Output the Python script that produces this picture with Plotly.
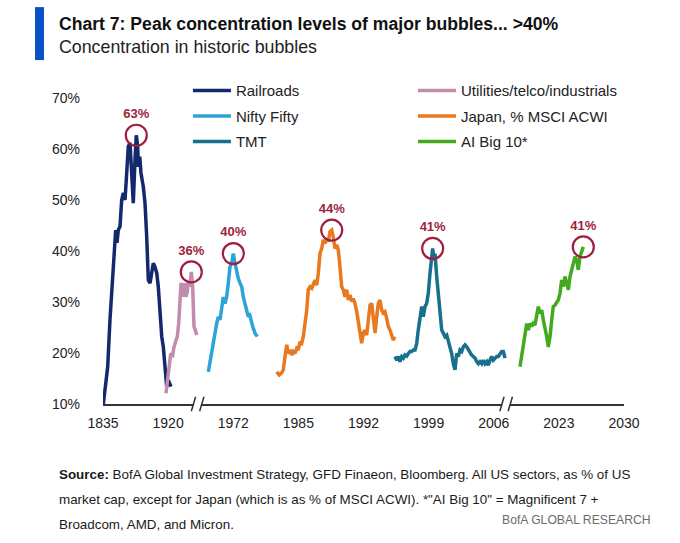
import numpy as np
import plotly.graph_objects as go

# x positions are in axis units: the tick labels sit at 0..8 (the axis is broken, so no real year scale)
tick_labels = ["1835", "1920", "1972", "1985", "1992", "1999", "2006", "2023", "2030"]
y_ticks = [10, 20, 30, 40, 50, 60, 70]

rail_x = [0.005, 0.041, 0.072, 0.107, 0.143, 0.174, 0.195, 0.215, 0.235, 0.261, 0.287, 0.312, 0.338,
          0.364, 0.388, 0.415, 0.441, 0.465, 0.491, 0.511, 0.533, 0.542, 0.564, 0.583, 0.619, 0.645,
          0.671, 0.696, 0.722, 0.748, 0.772, 0.798, 0.825, 0.849, 0.875, 0.902, 0.926, 0.952, 0.978,
          1.003, 1.044]
rail_y = [10.0, 13.4, 17.3, 26.5, 33.0, 40.8, 44.1, 41.6, 44.1, 44.8, 50.0, 51.4, 50.0,
          55.3, 60.5, 61.2, 54.0, 49.4, 57.8, 62.7, 60.5, 56.5, 58.5, 55.3, 52.6, 49.4,
          42.8, 34.3, 33.7, 35.7, 37.6, 36.9, 35.7, 33.0, 27.8, 23.2, 21.2, 17.3, 13.4,
          14.7, 13.4]

util_x = [0.967, 0.987, 1.018, 1.040, 1.070, 1.090, 1.121, 1.141, 1.162, 1.182, 1.198, 1.218,
          1.233, 1.255, 1.274, 1.294, 1.316, 1.336, 1.356, 1.377, 1.387, 1.397, 1.417, 1.439]
util_y = [12.1, 14.7, 18.6, 19.9, 19.6, 21.2, 22.5, 23.2, 25.8, 29.7, 33.7, 33.0,
          31.0, 33.7, 31.0, 32.0, 34.3, 33.0, 35.9, 33.0, 29.1, 25.2, 24.5, 23.5]

nifty_x = [1.617, 1.643, 1.669, 1.694, 1.720, 1.746, 1.770, 1.797, 1.823, 1.847, 1.873, 1.899,
           1.924, 1.950, 1.976, 2.001, 2.027, 2.053, 2.078, 2.104, 2.130, 2.154, 2.180, 2.207,
           2.231, 2.246, 2.268, 2.299, 2.334, 2.369]
nifty_y = [16.3, 18.0, 19.9, 21.9, 23.9, 25.8, 27.1, 26.5, 29.1, 31.0, 29.7, 31.0,
           33.7, 36.9, 37.6, 39.5, 37.6, 35.6, 34.6, 33.7, 33.0, 31.0, 29.7, 28.4,
           27.1, 27.8, 26.5, 25.2, 23.9, 23.2]

japan_x = [2.667, 2.707, 2.744, 2.769, 2.795, 2.821, 2.845, 2.871, 2.898, 2.922, 2.948, 2.974,
           2.999, 3.025, 3.051, 3.076, 3.102, 3.128, 3.152, 3.179, 3.205, 3.229, 3.255, 3.281,
           3.306, 3.332, 3.358, 3.383, 3.409, 3.435, 3.459, 3.486, 3.512, 3.536, 3.562, 3.588,
           3.613, 3.639, 3.665, 3.690, 3.716, 3.742, 3.767, 3.793, 3.819, 3.843, 3.869, 3.896,
           3.920, 3.946, 3.972, 3.997, 4.023, 4.049, 4.074, 4.100, 4.126, 4.150, 4.177, 4.203,
           4.227, 4.253, 4.280, 4.304, 4.330, 4.356, 4.381, 4.407, 4.433, 4.458, 4.479]
japan_y = [16.3, 15.7, 16.1, 16.7, 19.3, 21.6, 19.9, 20.6, 19.6, 20.3, 19.9, 20.9,
           20.6, 22.2, 21.9, 23.2, 25.8, 28.4, 32.4, 33.0, 32.7, 33.7, 34.3, 33.3,
           35.6, 39.5, 40.5, 42.2, 41.5, 42.5, 41.8, 43.8, 44.1, 42.8, 40.5, 41.2,
           40.2, 36.9, 33.0, 32.4, 31.0, 32.4, 30.4, 31.4, 30.1, 30.7, 29.7, 28.1,
           25.8, 23.2, 21.9, 23.9, 24.5, 23.5, 25.8, 29.4, 29.7, 27.1, 23.9, 27.1,
           29.7, 30.4, 28.4, 27.8, 28.1, 26.8, 25.2, 24.5, 23.2, 22.5, 23.2]

tmt_x = [4.484, 4.510, 4.534, 4.560, 4.587, 4.611, 4.637, 4.663, 4.688, 4.714, 4.740, 4.765,
         4.791, 4.817, 4.841, 4.868, 4.894, 4.918, 4.944, 4.970, 4.995, 5.021, 5.047, 5.062,
         5.083, 5.098, 5.124, 5.149, 5.175, 5.201, 5.225, 5.251, 5.278, 5.302, 5.328, 5.354,
         5.379, 5.405, 5.431, 5.456, 5.482, 5.508, 5.532, 5.559, 5.585, 5.609, 5.635, 5.661,
         5.686, 5.712, 5.738, 5.763, 5.789, 5.815, 5.840, 5.866, 5.892, 5.916, 5.942, 5.968,
         5.993, 6.019, 6.045, 6.070, 6.096, 6.122, 6.147, 6.173]
tmt_y = [19.3, 18.6, 19.3, 18.3, 19.3, 19.0, 19.6, 19.4, 19.9, 20.3, 20.3, 20.6,
         20.6, 21.9, 24.5, 27.1, 29.1, 27.1, 29.1, 29.7, 31.7, 35.6, 38.2, 40.5,
         38.2, 39.5, 35.0, 31.7, 28.4, 24.5, 23.9, 23.2, 23.5, 22.5, 21.2, 19.9,
         17.9, 16.7, 19.9, 19.3, 20.6, 20.3, 21.2, 21.6, 21.2, 20.6, 19.9, 19.6,
         19.3, 19.0, 18.3, 17.9, 18.3, 17.9, 18.6, 17.9, 18.3, 17.6, 18.6, 19.3,
         18.6, 19.0, 19.3, 19.3, 19.9, 20.3, 20.3, 19.0]

ai_x = [6.403, 6.429, 6.454, 6.480, 6.506, 6.531, 6.557, 6.583, 6.607, 6.633, 6.659, 6.684,
        6.710, 6.736, 6.761, 6.787, 6.813, 6.838, 6.864, 6.890, 6.914, 6.941, 6.967, 6.991,
        7.017, 7.043, 7.068, 7.094, 7.120, 7.145, 7.171, 7.197, 7.222, 7.248, 7.274, 7.298,
        7.324, 7.350, 7.375]
ai_y = [17.3, 19.3, 21.2, 23.9, 25.8, 24.5, 25.8, 25.2, 25.8, 25.5, 27.8, 29.1,
        27.8, 28.4, 26.5, 25.2, 23.2, 21.2, 23.2, 26.5, 29.1, 29.4, 30.1, 30.4,
        31.7, 34.3, 33.0, 35.0, 33.7, 32.4, 35.0, 36.3, 37.6, 38.9, 38.2, 36.3,
        38.9, 40.2, 40.8]

peak_labels = ["63%", "36%", "40%", "44%", "41%", "41%"]

series = [
    ("Railroads", rail_x, rail_y, "#13296b", "legend"),
    ("Utilities/telco/industrials", util_x, util_y, "#c28cad", "legend2"),
    ("Nifty Fifty", nifty_x, nifty_y, "#2ea3d8", "legend"),
    ("Japan, % MSCI ACWI", japan_x, japan_y, "#e8791f", "legend2"),
    ("TMT", tmt_x, tmt_y, "#17708c", "legend"),
    ("AI Big 10*", ai_x, ai_y, "#43aa1f", "legend2"),
]

fig = go.Figure()
peak_x, peak_y = [], []
for name, xs, ys, color, leg in series:
    fig.add_trace(go.Scatter(x=xs, y=ys, mode="lines", name=name, legend=leg, legendgroup=name,
                             line=dict(color=color, width=3.5)))
    k = int(np.argmax(ys))
    peak_x.append(xs[k])
    peak_y.append(ys[k])

red = "#9e1f40"
fig.add_trace(go.Scatter(
    x=peak_x, y=peak_y, mode="markers+text", text=peak_labels, textposition="top center",
    textfont=dict(family="Liberation Sans", size=13, color=red, weight="bold"),
    marker=dict(symbol="circle-open", size=21, color=red, line=dict(width=2.2, color=red)),
    showlegend=False, cliponaxis=False, hoverinfo="skip"))

font_fam = "Liberation Sans, sans-serif"

# blue title bar + axis breaks (white gap with two slashes)
shapes = [dict(type="rect", xref="paper", yref="paper", x0=-0.1305, x1=-0.1132, y0=1.124, y1=1.297,
               fillcolor="#0a50c8", line_width=0)]
for bx in [1.453, 6.19]:
    shapes.append(dict(type="line", xref="x", yref="paper", x0=bx - 0.06, x1=bx + 0.06, y0=0, y1=0,
                       line=dict(color="white", width=4), layer="above"))
    for off in [-0.064, 0.064]:
        shapes.append(dict(type="line", xref="x", yref="paper",
                           x0=bx + off - 0.033, x1=bx + off + 0.033, y0=-0.0235, y1=0.0235,
                           line=dict(color="#333333", width=1.5), layer="above"))

src = ["<b>Source:</b> BofA Global Investment Strategy, GFD Finaeon, Bloomberg. All US sectors, as % of US",
       "market cap, except for Japan (which is as % of MSCI ACWI). *\"AI Big 10\" = Magnificent 7 +",
       "Broadcom, AMD, and Micron."]
annotations = [
    dict(text="<b>Chart 7: Peak concentration levels of major bubbles... >40%</b>", x=-0.0883, y=1.242,
         font=dict(size=17.6, color="#111111")),
    dict(text="Concentration in historic bubbles", x=-0.0883, y=1.167,
         font=dict(size=17.8, color="#222222")),
]
for i, line in enumerate(src):
    annotations.append(dict(text=line, x=-0.0883, y=-0.232 - i * 0.081,
                            font=dict(size=13.4, color="#1a1a1a")))
annotations.append(dict(text="BofA GLOBAL RESEARCH", x=1.0556, y=-0.379, xanchor="right",
                        font=dict(size=12.2, color="#6b6b6b")))
for a in annotations:
    a.update(xref="paper", yref="paper", showarrow=False, yanchor="middle")
    a["font"]["family"] = font_fam
    a.setdefault("xanchor", "left")

leg_style = dict(xanchor="left", yanchor="top", tracegroupgap=3, itemwidth=38,
                 font=dict(family=font_fam, size=15, color="#222222"), bgcolor="rgba(0,0,0,0)")

fig.update_layout(
    width=680, height=543,
    margin=dict(l=103, r=56, t=98, b=139),
    paper_bgcolor="white", plot_bgcolor="white",
    font=dict(family=font_fam, size=14, color="#222222"),
    xaxis=dict(range=[0, 8], tickvals=list(range(len(tick_labels))), ticktext=tick_labels,
               showgrid=False, zeroline=False, showline=True, linecolor="#333333", linewidth=1.5,
               ticks="", ticklabelstandoff=5, tickfont=dict(size=14)),
    yaxis=dict(range=[10, 70], tickvals=y_ticks, ticktext=[f"{v}%" for v in y_ticks],
               showgrid=False, zeroline=False, showline=False, ticks="", ticklabelstandoff=22,
               tickfont=dict(size=14)),
    legend=dict(x=0.163, y=1.078, **leg_style),
    legend2=dict(x=0.595, y=1.078, **leg_style),
    shapes=shapes,
    annotations=annotations,
    showlegend=True,
)

# page body has a default 8px margin; drop it so the figure sits at the window corner
fig.write_html("out.html", config={"displayModeBar": False},
               post_script="document.body.style.margin='0px';")
